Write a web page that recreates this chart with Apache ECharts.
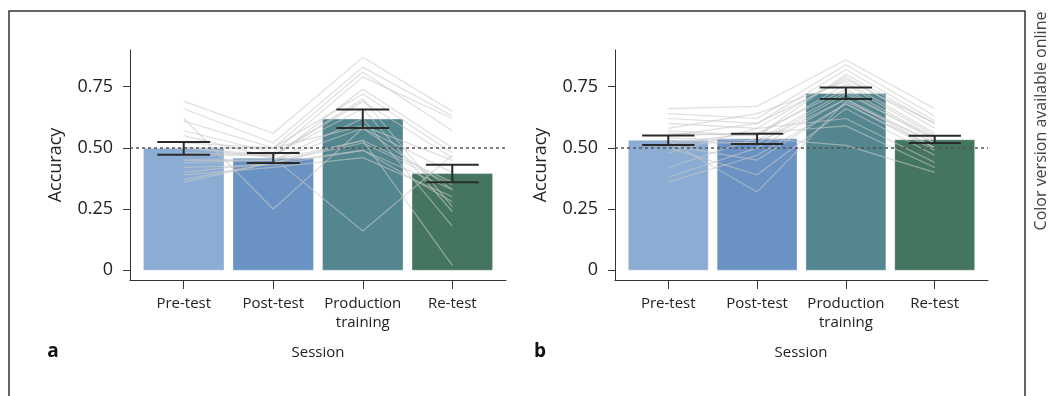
<!DOCTYPE html>
<html><head><meta charset="utf-8">
<script src="https://cdn.jsdelivr.net/npm/echarts@6/dist/echarts.min.js"></script>
<style>html,body{margin:0;padding:0;background:#fff}#c{width:1048px;height:396px}</style>
</head><body><div id="c"></div>
<script>
// ---------- data ----------
const categories = ['Pre-test', 'Post-test', 'Production\ntraining', 'Re-test'];
const yTicks = [0, 0.25, 0.5, 0.75];
const chanceLevel = 0.5;
const barColors = ['#8badd3', '#6a93c3', '#53868f', '#44755e'];

// Panel a
const meansA   = [0.498, 0.458, 0.618, 0.395];
const errLowA  = [0.472, 0.438, 0.581, 0.359];
const errHighA = [0.524, 0.479, 0.657, 0.431];
const participantsA = [
  [0.69, 0.56, 0.87, 0.65],
  [0.66, 0.52, 0.83, 0.63],
  [0.62, 0.25, 0.58, 0.33],
  [0.61, 0.50, 0.81, 0.57],
  [0.57, 0.48, 0.79, 0.62],
  [0.55, 0.46, 0.74, 0.50],
  [0.52, 0.50, 0.72, 0.48],
  [0.50, 0.46, 0.16, 0.47],
  [0.50, 0.47, 0.70, 0.26],
  [0.48, 0.47, 0.69, 0.46],
  [0.47, 0.47, 0.66, 0.24],
  [0.45, 0.45, 0.62, 0.18],
  [0.44, 0.45, 0.53, 0.02],
  [0.42, 0.43, 0.49, 0.33],
  [0.40, 0.44, 0.53, 0.36],
  [0.39, 0.42, 0.46, 0.30],
  [0.37, 0.44, 0.49, 0.28],
  [0.36, 0.44, 0.52, 0.35],
  [0.45, 0.45, 0.58, 0.40],
  [0.50, 0.50, 0.59, 0.45]
];

// Panel b
const meansB   = [0.531, 0.537, 0.722, 0.533];
const errLowB  = [0.512, 0.516, 0.700, 0.520];
const errHighB = [0.551, 0.558, 0.747, 0.550];
const participantsB = [
  [0.66, 0.67, 0.86, 0.66],
  [0.64, 0.62, 0.84, 0.63],
  [0.62, 0.60, 0.82, 0.61],
  [0.60, 0.58, 0.79, 0.58],
  [0.58, 0.64, 0.77, 0.56],
  [0.56, 0.55, 0.76, 0.55],
  [0.55, 0.56, 0.74, 0.54],
  [0.54, 0.53, 0.73, 0.53],
  [0.53, 0.32, 0.69, 0.52],
  [0.52, 0.52, 0.70, 0.50],
  [0.51, 0.45, 0.68, 0.49],
  [0.50, 0.39, 0.66, 0.47],
  [0.48, 0.58, 0.62, 0.44],
  [0.52, 0.56, 0.59, 0.42],
  [0.42, 0.54, 0.51, 0.40],
  [0.38, 0.50, 0.70, 0.52],
  [0.36, 0.47, 0.68, 0.50],
  [0.53, 0.52, 0.72, 0.54],
  [0.57, 0.55, 0.80, 0.60],
  [0.55, 0.60, 0.78, 0.60]
];

// ---------- chart ----------
const FONT = 'Open Sans';
const TXT = '#222';

function barItem(params, api) {
  const i = api.value(0), v = api.value(1);
  const top = api.coord([i, v]);
  const base = api.coord([i, 0]);
  const w = api.size([0.9, 0])[0];
  return {
    type: 'rect',
    shape: { x: top[0] - w / 2, y: top[1], width: w, height: base[1] - top[1] },
    style: { fill: barColors[i], stroke: 'rgba(255,255,255,0.35)', lineWidth: 1 }
  };
}
function errItem(params, api) {
  const i = api.value(0), lo = api.value(1), hi = api.value(2);
  const p1 = api.coord([i, lo]), p2 = api.coord([i, hi]);
  const cw = api.size([0.59, 0])[0] / 2;
  const st = { stroke: '#2a2a2a', lineWidth: 2 };
  return {
    type: 'group',
    children: [
      { type: 'line', shape: { x1: p1[0], y1: p1[1], x2: p2[0], y2: p2[1] }, style: st },
      { type: 'line', shape: { x1: p1[0] - cw, y1: p1[1], x2: p1[0] + cw, y2: p1[1] }, style: st },
      { type: 'line', shape: { x1: p2[0] - cw, y1: p2[1], x2: p2[0] + cw, y2: p2[1] }, style: st }
    ]
  };
}

function xAxisCfg(idx) {
  return {
    type: 'value', gridIndex: idx, min: -0.6, max: 3.6,
    splitLine: { show: false },
    axisLine: { show: true, onZero: false, lineStyle: { color: '#333', width: 1 } },
    axisTick: { show: true, length: 9, customValues: [0, 1, 2, 3], lineStyle: { color: '#333', width: 1 } },
    axisLabel: {
      customValues: [0, 1, 2, 3], margin: 14,
      formatter: v => categories[Math.round(v)],
      fontFamily: FONT, fontSize: 15, color: TXT, lineHeight: 19
    }
  };
}
function yAxisCfg(idx) {
  return {
    type: 'value', gridIndex: idx, min: -0.04, max: 0.9,
    splitLine: { show: false },
    axisLine: { show: true, onZero: false, lineStyle: { color: '#333', width: 1 } },
    axisTick: { show: true, length: 7, customValues: yTicks, lineStyle: { color: '#333', width: 1 } },
    axisLabel: {
      customValues: yTicks, margin: 17,
      formatter: v => (v === 0 ? '0' : v.toFixed(2)),
      fontFamily: FONT, fontSize: 18, color: TXT
    }
  };
}

function panelSeries(idx, means, lo, hi, parts) {
  const s = [];
  s.push({
    type: 'custom', xAxisIndex: idx, yAxisIndex: idx, z: 2, silent: true,
    renderItem: barItem,
    data: means.map((v, i) => [i, v]),
    markLine: {
      symbol: 'none', silent: true, label: { show: false },
      lineStyle: { color: '#555', type: [3, 3], width: 1.5 },
      data: [{ yAxis: chanceLevel }]
    }
  });
  parts.forEach(p => s.push({
    type: 'line', xAxisIndex: idx, yAxisIndex: idx, z: 3, silent: true,
    symbol: 'none', data: p.map((v, i) => [i, v]),
    lineStyle: { color: 'rgba(200,200,200,0.6)', width: 1.2 }
  }));
  s.push({
    type: 'custom', xAxisIndex: idx, yAxisIndex: idx, z: 5, silent: true,
    renderItem: errItem,
    encode: { x: 0, y: [1, 2] },
    data: means.map((v, i) => [i, lo[i], hi[i]])
  });
  return s;
}

const chart = echarts.init(document.getElementById('c'), null, { renderer: 'canvas' });
chart.setOption({
  animation: false,
  backgroundColor: '#fff',
  grid: [
    { left: 130, top: 50, width: 376, height: 230 },
    { left: 615, top: 50, width: 373, height: 230 }
  ],
  xAxis: [xAxisCfg(0), xAxisCfg(1)],
  yAxis: [yAxisCfg(0), yAxisCfg(1)],
  series: [].concat(
    panelSeries(0, meansA, errLowA, errHighA, participantsA),
    panelSeries(1, meansB, errLowB, errHighB, participantsB)
  ),
  graphic: [
    { type: 'rect', silent: true, shape: { x: 9, y: 11, width: 1016, height: 400 },
      style: { fill: 'none', stroke: '#333', lineWidth: 1.5 } },
    { type: 'text', x: 56, y: 165, rotation: Math.PI / 2, silent: true,
      style: { text: 'Accuracy', fontFamily: FONT, fontSize: 18, fill: TXT, textAlign: 'center', textVerticalAlign: 'middle' } },
    { type: 'text', x: 541, y: 165, rotation: Math.PI / 2, silent: true,
      style: { text: 'Accuracy', fontFamily: FONT, fontSize: 18, fill: TXT, textAlign: 'center', textVerticalAlign: 'middle' } },
    { type: 'text', x: 318, y: 353, silent: true,
      style: { text: 'Session', fontFamily: FONT, fontSize: 15, fill: TXT, textAlign: 'center', textVerticalAlign: 'middle' } },
    { type: 'text', x: 801, y: 353, silent: true,
      style: { text: 'Session', fontFamily: FONT, fontSize: 15, fill: TXT, textAlign: 'center', textVerticalAlign: 'middle' } },
    { type: 'text', x: 53, y: 352, silent: true,
      style: { text: 'a', fontFamily: FONT, fontSize: 19, fontWeight: 'bold', fill: '#111', textAlign: 'center', textVerticalAlign: 'middle' } },
    { type: 'text', x: 540, y: 352, silent: true,
      style: { text: 'b', fontFamily: FONT, fontSize: 19, fontWeight: 'bold', fill: '#111', textAlign: 'center', textVerticalAlign: 'middle' } },
    { type: 'text', x: 1041, y: 121, rotation: Math.PI / 2, silent: true,
      style: { text: 'Color version available online', fontFamily: FONT, fontSize: 16, fill: '#444', textAlign: 'center', textVerticalAlign: 'middle' } }
  ]
});
</script>
</body></html>
